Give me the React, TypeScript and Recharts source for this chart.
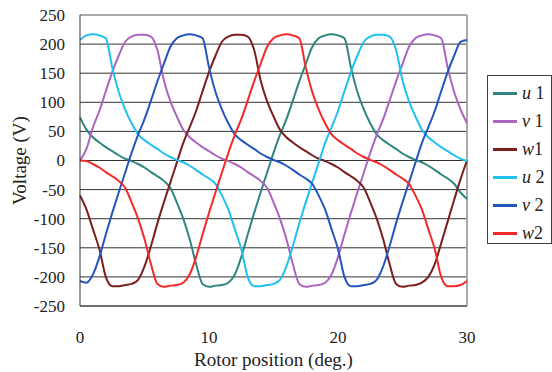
import {
  LineChart,
  Line,
  XAxis,
  YAxis,
  CartesianGrid,
  ReferenceLine,
  Legend,
} from "recharts";

const FONT = '"Liberation Serif", "Times New Roman", serif';

// rotor position in mechanical degrees, 0.5 deg steps
const positions = [
  0, 0.5, 1, 1.5, 2, 2.5, 3, 3.5, 4, 4.5, 5, 5.5, 6, 6.5, 7, 7.5, 8, 8.5, 9,
  9.5, 10, 10.5, 11, 11.5, 12, 12.5, 13, 13.5, 14, 14.5, 15, 15.5, 16, 16.5,
  17, 17.5, 18, 18.5, 19, 19.5, 20, 20.5, 21, 21.5, 22, 22.5, 23, 23.5, 24,
  24.5, 25, 25.5, 26, 26.5, 27, 27.5, 28, 28.5, 29, 29.5, 30,
];

// phase voltages (V)
const u1 = [
  74, 53, 40, 31, 23, 16, 9, 3, -1, -6, -12, -20, -27, -35, -47, -72, -100,
  -135, -178, -212, -217, -215, -214, -210, -196, -166, -127, -90, -55, -21, 13,
  44, 71, 103, 136, 166, 195, 210, 215, 217, 215, 210, 160, 118, 88, 64, 45, 35,
  27, 20, 12, 6, 1, -3, -9, -16, -24, -31, -40, -55, -66,
];
const v1 = [
  0, 20, 57, 85, 119, 152, 180, 204, 213, 216, 216, 213, 190, 138, 102, 76, 53,
  40, 31, 23, 16, 9, 3, -1, -6, -12, -20, -27, -35, -47, -72, -100, -135, -178,
  -212, -217, -215, -214, -210, -196, -166, -127, -90, -55, -21, 13, 44, 71, 103,
  136, 166, 195, 210, 215, 217, 215, 210, 160, 118, 88, 64,
];
const w1 = [
  -60, -84, -118, -152, -200, -216, -216, -214, -212, -205, -182, -147, -108,
  -72, -38, -4, 30, 57, 85, 119, 152, 180, 204, 213, 216, 216, 213, 190, 138,
  102, 76, 53, 40, 31, 23, 16, 9, 3, -1, -6, -12, -20, -27, -35, -47, -72, -100,
  -135, -178, -212, -217, -215, -214, -210, -200, -178, -142, -105, -68, -32, 0,
];
const u2 = [
  207, 215, 217, 215, 210, 160, 118, 88, 64, 45, 35, 27, 20, 12, 6, 1, -3, -9,
  -16, -24, -31, -40, -60, -84, -118, -152, -200, -216, -216, -214, -212, -205,
  -182, -147, -108, -72, -38, -4, 30, 57, 85, 119, 152, 180, 204, 213, 216, 216,
  213, 190, 138, 102, 76, 53, 40, 31, 23, 16, 9, 3, -1,
];
const v2 = [
  -207, -210, -196, -166, -127, -90, -55, -21, 13, 44, 71, 103, 136, 166, 195,
  210, 215, 217, 215, 210, 160, 118, 88, 64, 45, 35, 27, 20, 12, 6, 1, -3, -9,
  -16, -24, -31, -40, -60, -84, -118, -152, -200, -216, -216, -214, -212, -205,
  -182, -147, -108, -72, -38, -4, 30, 57, 85, 119, 152, 180, 204, 207,
];
const w2 = [
  0, -1, -6, -12, -20, -27, -35, -47, -72, -100, -135, -178, -212, -217, -215,
  -214, -210, -196, -166, -127, -90, -55, -21, 13, 44, 71, 103, 136, 166, 195,
  210, 215, 217, 215, 210, 160, 118, 88, 64, 45, 35, 27, 20, 12, 6, 1, -3, -9,
  -16, -24, -31, -40, -60, -84, -118, -152, -200, -216, -216, -214, -207,
];

const xTicks = [0, 10, 20, 30];
const yTicks = [-250, -200, -150, -100, -50, 0, 50, 100, 150, 200, 250];

const series = [
  { key: "u1", letter: "u", sep: " ", num: "1", color: "#2F8580", values: u1 },
  { key: "v1", letter: "v", sep: " ", num: "1", color: "#AA66BE", values: v1 },
  { key: "w1", letter: "w", sep: "", num: "1", color: "#7A1E1E", values: w1 },
  { key: "u2", letter: "u", sep: " ", num: "2", color: "#22C0EE", values: u2 },
  { key: "v2", letter: "v", sep: " ", num: "2", color: "#2456BE", values: v2 },
  { key: "w2", letter: "w", sep: "", num: "2", color: "#F52828", values: w2 },
];

const chartData = positions.map((pos, i) => {
  const row: Record<string, number> = { pos };
  series.forEach((s) => {
    row[s.key] = s.values[i];
  });
  return row;
});

function XTick({ x, y, payload }: any) {
  return (
    <text
      x={x}
      y={y}
      dy="0.71em"
      textAnchor="middle"
      fontSize={17}
      fill="#222"
      style={{ fontFamily: FONT }}
    >
      {payload.value}
    </text>
  );
}

function YTick({ x, y, payload }: any) {
  return (
    <text
      x={x}
      y={y}
      dy="0.35em"
      textAnchor="end"
      fontSize={17}
      fill="#222"
      style={{ fontFamily: FONT }}
    >
      {payload.value}
    </text>
  );
}

function LegendBox() {
  return (
    <div
      style={{
        width: 65,
        height: 169,
        boxSizing: "border-box",
        border: "1px solid #404040",
        background: "#fff",
        paddingTop: 3,
        fontFamily: FONT,
      }}
    >
      {series.map((s) => (
        <div
          key={s.key}
          style={{ height: 28, display: "flex", alignItems: "center" }}
        >
          <span
            style={{
              display: "inline-block",
              width: 24,
              borderTop: `3px solid ${s.color}`,
              marginLeft: 5,
              marginRight: 5,
            }}
          />
          <span style={{ fontSize: 18, color: "#222", whiteSpace: "nowrap" }}>
            <i>{s.letter}</i>
            {s.sep}
            {s.num}
          </span>
        </div>
      ))}
    </div>
  );
}

export default function App() {
  return (
    <div
      style={{
        position: "absolute",
        left: 0,
        top: 0,
        background: "#fff",
        fontFamily: FONT,
      }}
    >
      <LineChart
        width={552}
        height={372}
        data={chartData}
        margin={{ top: 15, right: 85, bottom: 0, left: 0 }}
      >
        <CartesianGrid vertical={false} stroke="#333" strokeWidth={1} />
        <XAxis
          dataKey="pos"
          type="number"
          domain={[0, 30]}
          ticks={xTicks}
          height={66}
          tickSize={0}
          tickMargin={25}
          axisLine={{ stroke: "#444" }}
          tick={<XTick />}
          label={{
            value: "Rotor position (deg.)",
            position: "insideBottom",
            offset: 6,
            fontSize: 19,
            fill: "#222",
            fontFamily: FONT,
          }}
        />
        <YAxis
          type="number"
          domain={[-250, 250]}
          ticks={yTicks}
          width={80}
          tickSize={0}
          tickMargin={15}
          axisLine={{ stroke: "#333" }}
          tick={<YTick />}
          label={{
            value: "Voltage (V)",
            angle: -90,
            position: "insideLeft",
            offset: 19,
            fontSize: 19,
            fill: "#222",
            fontFamily: FONT,
            style: { textAnchor: "middle" },
          }}
        />
        <ReferenceLine y={250} stroke="#a8a8a8" strokeWidth={2} />
        <ReferenceLine x={30} stroke="#a8a8a8" strokeWidth={2} />
        {series.map((s) => (
          <Line
            key={s.key}
            type="monotone"
            dataKey={s.key}
            stroke={s.color}
            strokeWidth={2}
            dot={false}
            isAnimationActive={false}
          />
        ))}
        <Legend
          layout="vertical"
          align="center"
          verticalAlign="middle"
          content={() => <LegendBox />}
          wrapperStyle={{ left: 487, top: 75, width: 65, height: 169 }}
        />
      </LineChart>
    </div>
  );
}
